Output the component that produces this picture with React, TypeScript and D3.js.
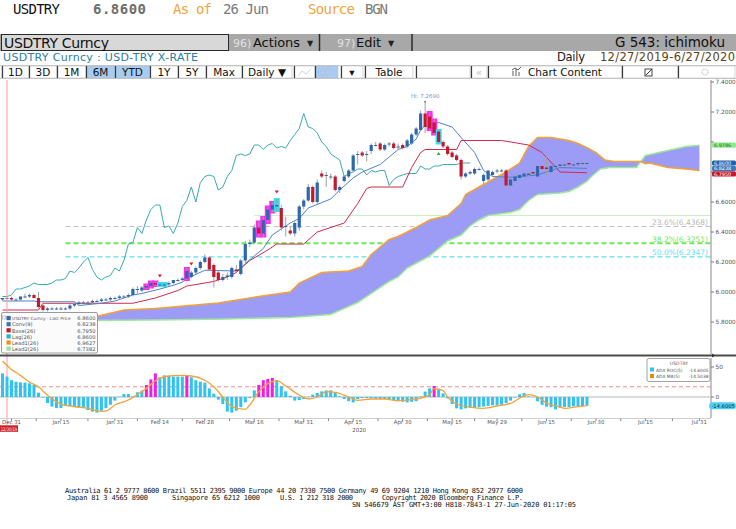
import React, { useEffect, useRef } from "react";
import * as d3 from "d3";

// trading calendar (weekdays) used as the bar axis
const firstDay = "2019-12-27";
const endDay = "2020-08-04";

// daily OHLC, one value per weekday from 2019-12-27 to 2020-06-26
const opens = [
  5.95, 5.96, 5.96, 5.95, 5.95, 5.97, 5.97, 5.98, 5.96, 5.91,
  5.88, 5.89, 5.89, 5.89, 5.89, 5.89, 5.91, 5.92, 5.93, 5.93,
  5.93, 5.94, 5.94, 5.95, 5.95, 5.96, 5.96, 5.97, 5.97, 5.98,
  6.02, 6.01, 6.03, 6.04, 6.06, 6.05, 6.05, 6.05, 6.06, 6.08,
  6.08, 6.09, 6.10, 6.13, 6.16, 6.20, 6.23, 6.18, 6.13, 6.08,
  6.10, 6.10, 6.15, 6.12, 6.21, 6.32, 6.33, 6.43, 6.39, 6.48,
  6.55, 6.57, 6.56, 6.44, 6.41, 6.39, 6.43, 6.57, 6.61, 6.70,
  6.60, 6.79, 6.78, 6.77, 6.77, 6.68, 6.74, 6.77, 6.81, 6.92,
  6.93, 6.92, 6.94, 6.98, 6.99, 6.95, 6.99, 6.99, 6.97, 6.98,
  6.97, 6.99, 7.05, 7.08, 7.19, 7.17, 7.13, 7.07, 7.00, 6.97,
  6.93, 6.91, 6.88, 6.77, 6.79, 6.79, 6.82, 6.74, 6.75, 6.78,
  6.81, 6.81, 6.81, 6.71, 6.74, 6.76, 6.77, 6.78, 6.80, 6.77,
  6.84, 6.83, 6.80, 6.84, 6.84, 6.85, 6.86, 6.85, 6.85, 6.86,
  6.86,
];
const highs = [
  5.96, 5.97, 5.97, 5.96, 5.97, 5.99, 5.99, 5.99, 6.00, 5.92,
  5.90, 5.90, 5.90, 5.90, 5.90, 5.92, 5.93, 5.94, 5.94, 5.94,
  5.95, 5.95, 5.96, 5.96, 5.97, 5.97, 5.98, 5.98, 5.99, 6.03,
  6.04, 6.04, 6.05, 6.07, 6.07, 6.06, 6.06, 6.07, 6.08, 6.09,
  6.10, 6.16, 6.14, 6.17, 6.21, 6.25, 6.24, 6.19, 6.14, 6.12,
  6.13, 6.17, 6.18, 6.22, 6.34, 6.35, 6.45, 6.47, 6.50, 6.57,
  6.60, 6.62, 6.58, 6.50, 6.44, 6.47, 6.58, 6.62, 6.72, 6.71,
  6.75, 6.81, 6.80, 6.79, 6.78, 6.71, 6.78, 6.82, 6.92, 6.94,
  6.94, 6.94, 6.99, 7.00, 7.00, 6.99, 7.00, 7.00, 6.99, 6.99,
  7.02, 7.06, 7.10, 7.21, 7.269, 7.20, 7.15, 7.08, 7.01, 6.98,
  6.94, 6.92, 6.89, 6.80, 6.81, 6.83, 6.83, 6.79, 6.81, 6.81,
  6.82, 6.82, 6.82, 6.76, 6.78, 6.79, 6.80, 6.80, 6.81, 6.85,
  6.85, 6.90, 6.85, 6.86, 6.86, 6.86, 6.87, 6.86, 6.87, 6.87,
  6.87,
];
const lows = [
  5.94, 5.95, 5.94, 5.95, 5.94, 5.96, 5.96, 5.96, 5.89, 5.87,
  5.87, 5.88, 5.88, 5.88, 5.88, 5.88, 5.90, 5.91, 5.92, 5.92,
  5.92, 5.93, 5.93, 5.94, 5.94, 5.95, 5.95, 5.96, 5.96, 5.97,
  5.99, 6.00, 6.02, 6.03, 6.04, 6.04, 6.04, 6.04, 6.05, 6.07,
  6.07, 6.08, 6.09, 6.12, 6.15, 6.19, 6.14, 6.03, 6.07, 6.07,
  6.08, 6.09, 6.13, 6.11, 6.19, 6.30, 6.32, 6.37, 6.37, 6.46,
  6.53, 6.54, 6.41, 6.37, 6.38, 6.37, 6.41, 6.55, 6.60, 6.59,
  6.58, 6.76, 6.70, 6.75, 6.67, 6.66, 6.73, 6.76, 6.80, 6.85,
  6.90, 6.87, 6.92, 6.97, 6.94, 6.94, 6.97, 6.95, 6.95, 6.95,
  6.96, 6.98, 7.04, 7.07, 7.06, 7.08, 7.05, 6.99, 6.96, 6.91,
  6.89, 6.87, 6.75, 6.76, 6.78, 6.78, 6.81, 6.72, 6.74, 6.77,
  6.79, 6.80, 6.70, 6.70, 6.73, 6.75, 6.76, 6.77, 6.78, 6.76,
  6.81, 6.78, 6.79, 6.83, 6.83, 6.84, 6.84, 6.84, 6.84, 6.85,
  6.85,
];
const closes = [
  5.96, 5.96, 5.95, 5.95, 5.97, 5.97, 5.98, 5.96, 5.90, 5.88,
  5.89, 5.89, 5.89, 5.89, 5.89, 5.91, 5.92, 5.93, 5.93, 5.93,
  5.94, 5.94, 5.95, 5.95, 5.96, 5.96, 5.97, 5.97, 5.98, 6.02,
  6.02, 6.03, 6.04, 6.06, 6.05, 6.05, 6.05, 6.06, 6.08, 6.08,
  6.09, 6.14, 6.13, 6.16, 6.20, 6.23, 6.15, 6.10, 6.08, 6.10,
  6.11, 6.16, 6.14, 6.21, 6.32, 6.33, 6.43, 6.39, 6.48, 6.55,
  6.58, 6.58, 6.43, 6.44, 6.39, 6.46, 6.57, 6.61, 6.70, 6.60,
  6.73, 6.77, 6.78, 6.77, 6.68, 6.70, 6.77, 6.81, 6.91, 6.92,
  6.91, 6.92, 6.98, 6.98, 6.95, 6.98, 6.99, 6.96, 6.97, 6.96,
  7.01, 7.05, 7.09, 7.19, 7.10, 7.09, 7.06, 7.00, 6.97, 6.92,
  6.90, 6.88, 6.77, 6.79, 6.80, 6.82, 6.82, 6.78, 6.81, 6.80,
  6.81, 6.81, 6.71, 6.75, 6.77, 6.78, 6.79, 6.79, 6.79, 6.84,
  6.82, 6.82, 6.84, 6.84, 6.85, 6.85, 6.85, 6.85, 6.86, 6.86,
  6.86,
];

// ichimoku lines
const conv: [string, number][] = [
  ["2019-12-27", 5.94], ["2020-01-07", 5.94], ["2020-01-08", 5.935], ["2020-01-20", 5.935],
  ["2020-01-21", 5.91], ["2020-01-28", 5.925], ["2020-01-31", 5.94], ["2020-02-06", 5.98],
  ["2020-02-10", 5.99], ["2020-02-14", 6.02], ["2020-02-19", 6.045], ["2020-02-21", 6.065],
  ["2020-02-24", 6.09], ["2020-02-28", 6.145], ["2020-03-10", 6.14],
  ["2020-03-11", 6.16], ["2020-03-12", 6.19], ["2020-03-16", 6.24], ["2020-03-18", 6.29],
  ["2020-03-20", 6.38], ["2020-03-24", 6.42], ["2020-03-26", 6.46], ["2020-03-30", 6.49],
  ["2020-04-01", 6.56], ["2020-04-08", 6.62], ["2020-04-10", 6.68], ["2020-04-15", 6.76],
  ["2020-04-17", 6.8], ["2020-04-23", 6.85], ["2020-04-29", 6.95], ["2020-05-01", 6.97],
  ["2020-05-05", 7.02], ["2020-05-06", 7.08], ["2020-05-07", 7.11], ["2020-05-12", 7.13],
  ["2020-05-15", 7.1], ["2020-05-19", 7.03], ["2020-05-22", 6.93], ["2020-05-26", 6.81],
  ["2020-05-28", 6.77], ["2020-06-03", 6.765], ["2020-06-11", 6.78], ["2020-06-18", 6.83],
  ["2020-06-26", 6.8238],
];
const base: [string, number][] = [
  ["2019-12-27", 5.88], ["2020-01-08", 5.88], ["2020-01-09", 5.925], ["2020-02-06", 5.925],
  ["2020-02-13", 5.96], ["2020-02-20", 6.01], ["2020-02-24", 6.04], ["2020-03-03", 6.07],
  ["2020-03-06", 6.1], ["2020-03-10", 6.13], ["2020-03-13", 6.21], ["2020-03-19", 6.28],
  ["2020-03-23", 6.32], ["2020-03-31", 6.32], ["2020-04-03", 6.4], ["2020-04-13", 6.46],
  ["2020-04-16", 6.59], ["2020-04-20", 6.69], ["2020-04-21", 6.7], ["2020-04-30", 6.7],
  ["2020-05-04", 6.83], ["2020-05-06", 6.93], ["2020-05-07", 6.95], ["2020-05-18", 6.95],
  ["2020-05-19", 7.01], ["2020-06-01", 7.01], ["2020-06-09", 6.98], ["2020-06-12", 6.93],
  ["2020-06-18", 6.8], ["2020-06-26", 6.795],
];
const lead1: [string, number][] = [
  ["2019-12-27", 5.8], ["2020-01-23", 5.824], ["2020-02-04", 5.88], ["2020-02-13", 5.89],
  ["2020-03-04", 5.927], ["2020-03-17", 5.97], ["2020-03-26", 6.0], ["2020-03-30", 6.06],
  ["2020-04-06", 6.13], ["2020-04-14", 6.14],
  ["2020-04-17", 6.17], ["2020-04-21", 6.25], ["2020-04-23", 6.3], ["2020-04-27", 6.35],
  ["2020-04-29", 6.37], ["2020-05-05", 6.43], ["2020-05-08", 6.48], ["2020-05-14", 6.51],
  ["2020-05-19", 6.59], ["2020-05-20", 6.65], ["2020-05-25", 6.7], ["2020-05-28", 6.75],
  ["2020-06-02", 6.8], ["2020-06-05", 6.86], ["2020-06-09", 6.97], ["2020-06-11", 7.03],
  ["2020-06-16", 7.03], ["2020-06-18", 7.02], ["2020-06-22", 7.01], ["2020-06-24", 6.99],
  ["2020-06-26", 6.9627], ["2020-06-30", 6.93], ["2020-07-02", 6.88], ["2020-07-06", 6.87],
  ["2020-07-14", 6.87], ["2020-07-15", 6.855], ["2020-07-16", 6.86], ["2020-07-22", 6.83],
  ["2020-07-28", 6.82], ["2020-07-31", 6.81],
];
const lead2: [string, number][] = [
  ["2019-12-27", 5.79], ["2020-01-23", 5.81], ["2020-02-13", 5.813], ["2020-03-06", 5.82],
  ["2020-03-26", 5.83], ["2020-04-08", 5.85], ["2020-04-16", 5.93], ["2020-04-27", 6.07],
  ["2020-04-29", 6.1], ["2020-05-01", 6.16], ["2020-05-08", 6.24], ["2020-05-14", 6.34],
  ["2020-05-19", 6.38], ["2020-05-21", 6.44], ["2020-05-25", 6.48],
  ["2020-05-27", 6.51], ["2020-06-03", 6.53], ["2020-06-05", 6.55], ["2020-06-09", 6.61],
  ["2020-06-11", 6.65], ["2020-06-18", 6.66], ["2020-06-22", 6.67], ["2020-06-24", 6.7],
  ["2020-06-26", 6.7382], ["2020-06-29", 6.77], ["2020-07-01", 6.82], ["2020-07-03", 6.83],
  ["2020-07-13", 6.83], ["2020-07-15", 6.91], ["2020-07-20", 6.93], ["2020-07-23", 6.95],
  ["2020-07-28", 6.97], ["2020-07-31", 6.9786],
];
const lagShift = 26;

// pattern highlights and signals
const pinkBoxes = ["2020-02-11", "2020-02-12", "2020-02-13", "2020-02-24", "2020-03-17", "2020-03-18", "2020-03-19", "2020-03-20", "2020-05-08", "2020-05-11"];
const cyanBoxes = ["2020-02-14", "2020-02-17", "2020-03-23", "2020-05-12"];
const sellMarks = ["2020-02-14", "2020-02-25", "2020-03-23"];
const buyMarks = ["2020-05-12"];

// fibonacci levels
const fibNames = ["23.6%", "38.2%", "50.0%"];
const fibValues = [6.4368, 6.3251, 6.2347];
const fibStart = "2020-01-16";
const guideLevel = 6.51;
const guideStart = "2020-03-16";

// lower study: ADX ROC(5) per bar and its MA(5)
const roc = [
  39.4, 34, 28, 25.5, 24.4, 24, 22.8, 20, 7.2, -1,
  -10, -16, -18.5, -18.5, -15, -15, -17, -17, -18.5, -21.7,
  -24.4, -26, -23, -18.5, -13, -6, 0.5, 5, 5, 1,
  7.8, 10.6, 20, 29.4, 39.4, 32.8, 36, 35, 34, 34,
  34, 36.7, 32.8, 28, 25.5, 23.9, 14.4, 5.6, -4.4, -11.7,
  -24.4, -26, -22.8, -17, -9, -1.5, 11, 20, 28, 30,
  31.7, 28, 18, 9.4, 2, -6, -5, -3.3, 0.5, 4,
  6.7, 9.4, 11, 11, 6.7, 1, -3.3, -7, -9, -3.3,
  -1.7, -1.7, -1.7, -2.5, -3, -3, -3.3, -5, -7, -8,
  -9, -8, -7, 1, 9, 14.4, 18.3, 12.8, 6.1, -2.2,
  -11.7, -18.9, -20.6, -19, -18, -17.5, -16.7, -16, -15, -13.9,
  -13.9, -13, -10, -6, -1, 4.4, 6.7, 1.1, -0.5, -7.2,
  -13, -16, -17, -20.6, -18, -16.7, -16.7, -15.5, -15, -15,
  -14.6005,
];
const rocPink = ["2020-02-11", "2020-02-12", "2020-02-13", "2020-02-24", "2020-03-17", "2020-03-18", "2020-03-19", "2020-03-20", "2020-05-11"];
const rocMa: [string, number][] = [
  ["2019-12-27", 60], ["2019-12-31", 46], ["2020-01-02", 36], ["2020-01-06", 25], ["2020-01-08", 17],
  ["2020-01-10", 3], ["2020-01-13", -3], ["2020-01-15", -11.7], ["2020-01-20", -16], ["2020-01-23", -19],
  ["2020-01-28", -24], ["2020-01-29", -23.3], ["2020-01-31", -13.3], ["2020-02-05", -5], ["2020-02-07", 4],
  ["2020-02-11", 14.4], ["2020-02-13", 27], ["2020-02-18", 35], ["2020-02-21", 36], ["2020-02-25", 35],
  ["2020-02-28", 28], ["2020-03-03", 17], ["2020-03-05", 0], ["2020-03-09", -16], ["2020-03-12", -20.6],
  ["2020-03-13", -13.3], ["2020-03-17", 9], ["2020-03-20", 25.6], ["2020-03-23", 27.2], ["2020-03-25", 18.3],
  ["2020-03-30", 3.3], ["2020-04-01", -3.3], ["2020-04-03", 0], ["2020-04-07", 8.9], ["2020-04-09", 7.8],
  ["2020-04-14", 0], ["2020-04-16", -5.6], ["2020-04-21", -3.3], ["2020-04-24", -3.3], ["2020-04-29", -6.1],
  ["2020-05-05", -3.3], ["2020-05-08", 4], ["2020-05-11", 13.9], ["2020-05-13", 10.6], ["2020-05-14", 0],
  ["2020-05-18", -11.7], ["2020-05-21", -16.7], ["2020-05-26", -18.9], ["2020-05-29", -15], ["2020-06-03", -10.6],
  ["2020-06-08", 1.7], ["2020-06-09", 3.9], ["2020-06-11", 0], ["2020-06-15", -10], ["2020-06-18", -16.7],
  ["2020-06-19", -18.9], ["2020-06-24", -16.1], ["2020-06-26", -14.5038],
];
const rocDash = 17;

// axis
const priceTicks = [5.8, 6.0, 6.2, 6.4, 6.6, 6.8, 7.0, 7.2, 7.4];
const dateTicks = ["2019-12-31", "2020-01-15", "2020-01-31", "2020-02-14", "2020-02-28", "2020-03-16", "2020-03-31", "2020-04-15", "2020-04-30", "2020-05-15", "2020-05-29", "2020-06-15", "2020-06-30", "2020-07-15", "2020-07-31"];

const legendNames = ["USDTRY Curncy - Last Price", "Conv(9)", "Base(26)", "Lag(26)", "Lead1(26)", "Lead2(26)"];
const legendValues = ["6.8600", "6.8238", "6.7950", "6.8600", "6.9627", "6.7382"];

const parse = d3.timeParse("%Y-%m-%d");
const key = d3.timeFormat("%Y-%m-%d");
const days = d3.timeDay
  .range(parse(firstDay) as Date, parse(endDay) as Date)
  .filter((d) => d.getDay() !== 0 && d.getDay() !== 6);
const dayIndex = new Map(days.map((d, i) => [key(d), i]));
const idx = (s: string) => dayIndex.get(s) as number;

const UP = "#2d67ad";
const DOWN = "#c4182f";
const SANS = "DejaVu Sans, Verdana, sans-serif";
const MONO = "DejaVu Sans Mono, monospace";

function drawChart(root: d3.Selection<SVGGElement, unknown, null, undefined>) {
  const x = d3.scaleLinear().domain([0, closes.length - 1]).range([2.5, 587]);
  const y = d3.scaleLinear().domain([5.8, 7.4]).range([322, 82]);
  const yl = d3.scaleLinear().domain([0, 50]).range([397, 367]);
  const xd = (s: string) => x(idx(s));

  const defs = root.append("defs");
  defs.append("clipPath").attr("id", "clipMain").append("rect")
    .attr("x", 0).attr("y", 80).attr("width", 711).attr("height", 274);
  defs.append("clipPath").attr("id", "clipLow").append("rect")
    .attr("x", 0).attr("y", 357).attr("width", 711).attr("height", 61);

  const main = root.append("g").attr("clip-path", "url(#clipMain)");

  // guide + fibonacci lines
  main.append("line")
    .attr("x1", xd(guideStart)).attr("x2", 711)
    .attr("y1", y(guideLevel)).attr("y2", y(guideLevel))
    .attr("stroke", "#c6f2c0").attr("stroke-width", 1);
  const fibColors = ["#c4c4c4", "#6ee85a", "#5ee0f0"];
  const fibWidths = [1.2, 2, 1.2];
  fibValues.forEach((v, i) => {
    main.append("line")
      .attr("x1", xd(fibStart)).attr("x2", 711)
      .attr("y1", y(v)).attr("y2", y(v))
      .attr("stroke", fibColors[i]).attr("stroke-width", fibWidths[i])
      .attr("stroke-dasharray", "5,3");
    main.append("text")
      .attr("x", 708).attr("y", y(v) - 1.5)
      .attr("text-anchor", "end")
      .attr("font-family", SANS).attr("font-size", 7.5)
      .attr("fill", i === 0 ? "#b8b8b8" : fibColors[i])
      .text(`${fibNames[i]}(${v.toFixed(4)})`);
  });

  // cloud
  const pts1 = lead1.map(([d, v]) => [xd(d), y(v)] as [number, number]);
  const pts2 = lead2.map(([d, v]) => [xd(d), y(v)] as [number, number]);
  main.append("path")
    .attr("d", (d3.line()([...pts1, ...pts2.slice().reverse()]) as string) + "Z")
    .attr("fill", "#9c9cf6");
  const line = d3.line<[string, number]>().x((d) => xd(d[0])).y((d) => y(d[1]));
  main.append("path").attr("d", line(lead2)).attr("fill", "none").attr("stroke", "#9de89a").attr("stroke-width", 1.5);
  main.append("path").attr("d", line(lead1)).attr("fill", "none").attr("stroke", "#f5a033").attr("stroke-width", 1.5);

  // lagging span
  const lagLine = d3.line<number>().x((_, i) => x(i)).y((v) => y(v));
  main.append("path").attr("d", lagLine(closes.slice(lagShift)))
    .attr("fill", "none").attr("stroke", "#3aa9b4").attr("stroke-width", 1);
  main.append("path").attr("d", line(base)).attr("fill", "none").attr("stroke", "#d22a4c").attr("stroke-width", 1);
  main.append("path").attr("d", line(conv)).attr("fill", "none").attr("stroke", "#4f82c8").attr("stroke-width", 1);

  // highlight boxes
  const box = (list: string[], color: string) => list.forEach((d) => {
    const i = idx(d);
    main.append("rect")
      .attr("x", x(i) - 3).attr("width", 6)
      .attr("y", y(highs[i]) - 1).attr("height", y(lows[i]) - y(highs[i]) + 2)
      .attr("fill", color);
  });
  box(pinkBoxes, "#ff2cf0");
  box(cyanBoxes, "#2fe0fa");

  // candles
  closes.forEach((c, i) => {
    const o = opens[i];
    const col = c >= o ? UP : DOWN;
    main.append("line")
      .attr("x1", x(i)).attr("x2", x(i))
      .attr("y1", y(highs[i])).attr("y2", y(lows[i]))
      .attr("stroke", "#a0a0a0").attr("stroke-width", 1);
    const top = y(Math.max(o, c));
    const h = Math.max(1, Math.abs(y(o) - y(c)));
    main.append("rect")
      .attr("x", x(i) - 1.6).attr("width", 3.2)
      .attr("y", top).attr("height", h)
      .attr("fill", col);
  });

  // signals
  sellMarks.forEach((d) => {
    const i = idx(d);
    const cy = y(highs[i]) - 7;
    main.append("path")
      .attr("d", `M${x(i) - 2},${cy - 1.5}L${x(i) + 2},${cy - 1.5}L${x(i)},${cy + 1.5}Z`)
      .attr("fill", "#e8102a");
  });
  buyMarks.forEach((d) => {
    const i = idx(d);
    const cy = y(lows[i]) + 10;
    main.append("path")
      .attr("d", `M${x(i) - 2},${cy + 1.5}L${x(i) + 2},${cy + 1.5}L${x(i)},${cy - 1.5}Z`)
      .attr("fill", "#3cb043");
  });

  // high label
  const hiIdx = d3.maxIndex(highs);
  main.append("circle").attr("cx", x(hiIdx)).attr("cy", y(highs[hiIdx])).attr("r", 1).attr("fill", "#5f86c0");
  main.append("text")
    .attr("x", x(hiIdx)).attr("y", y(highs[hiIdx]) - 3.5)
    .attr("text-anchor", "middle")
    .attr("font-family", SANS).attr("font-size", 5.5).attr("fill", "#8294b8")
    .text(`Hi: ${highs[hiIdx].toFixed(4)}`);

  // start marker
  root.append("line").attr("x1", 7).attr("x2", 7).attr("y1", 80).attr("y2", 425)
    .attr("stroke", "#ff9a9a").attr("stroke-width", 1);

  // legend
  const lg = root.append("g");
  lg.append("rect").attr("x", 1.5).attr("y", 312.5).attr("width", 96).attr("height", 40.5)
    .attr("fill", "#fbfbfb").attr("stroke", "#9a9a9a").attr("rx", 1.5);
  const legendColors = [UP, "#3f74bf", DOWN, "#27b5bd", "#ef8d1a", "#93e693"];
  legendNames.forEach((n, i) => {
    const yy = 320.3 + i * 6.1;
    lg.append("rect").attr("x", 6.5).attr("y", yy - 4.3).attr("width", 4.2).attr("height", 4.2)
      .attr("fill", legendColors[i]);
    lg.append("text").attr("x", 12).attr("y", yy)
      .attr("font-family", SANS).attr("font-size", i === 0 ? 4.3 : 5.2).attr("fill", "#555")
      .text(n);
    lg.append("text").attr("x", 95.5).attr("y", yy).attr("text-anchor", "end")
      .attr("font-family", SANS).attr("font-size", 5.2).attr("fill", "#555")
      .text(legendValues[i]);
  });
  lg.append("rect").attr("x", 2.5).attr("y", 316).attr("width", 3).attr("height", 3)
    .attr("fill", "none").attr("stroke", "#999").attr("stroke-width", 0.5);

  // right price axis with value tags
  const ax = root.append("g");
  ax.append("line").attr("x1", 711).attr("x2", 711).attr("y1", 80).attr("y2", 354)
    .attr("stroke", "#8a8a8a").attr("stroke-width", 1);
  const tags: [number, string, string][] = [
    [lead2[lead2.length - 1][1], "#90ea8e", "#1d5c1d"],
    [closes[closes.length - 1], "#2261aa", "#ffffff"],
    [conv[conv.length - 1][1], "#3c76bd", "#ffffff"],
    [base[base.length - 1][1], DOWN, "#ffffff"],
  ];
  const tagY: number[] = [];
  tags.forEach(([v], i) => {
    const raw = y(v);
    tagY.push(i > 0 ? Math.max(raw, tagY[i - 1] + 5.4) : raw);
  });
  priceTicks.forEach((t) => {
    ax.append("line").attr("x1", 711).attr("x2", 714).attr("y1", y(t)).attr("y2", y(t)).attr("stroke", "#777");
    if (tagY.some((ty) => Math.abs(ty - y(t)) < 6)) return;
    ax.append("text").attr("x", 715.5).attr("y", y(t) + 2)
      .attr("font-family", SANS).attr("font-size", 5.8).attr("fill", "#555")
      .text(t.toFixed(4));
  });
  tags.forEach(([v, bg, fg], i) => {
    ax.append("rect").attr("x", 712).attr("y", tagY[i] - 2.6).attr("width", 24).attr("height", 5.2)
      .attr("rx", 1.5).attr("fill", bg);
    ax.append("text").attr("x", 714).attr("y", tagY[i] + 1.8)
      .attr("font-family", SANS).attr("font-size", 4.9).attr("fill", fg)
      .text(v.toFixed(4));
  });

  // panel divider
  root.append("line").attr("x1", 0).attr("x2", 736).attr("y1", 355.5).attr("y2", 355.5)
    .attr("stroke", "#4a4a4a").attr("stroke-width", 2);
  root.append("path").attr("d", "M712,353.5L715,355.5L712,357.5Z").attr("fill", "#333");

  // lower study
  const low = root.append("g").attr("clip-path", "url(#clipLow)");
  low.append("line").attr("x1", 0).attr("x2", 711).attr("y1", yl(rocDash)).attr("y2", yl(rocDash))
    .attr("stroke", "#f08c8c").attr("stroke-width", 1).attr("stroke-dasharray", "4,3");
  low.append("line").attr("x1", 0).attr("x2", 711).attr("y1", yl(0)).attr("y2", yl(0))
    .attr("stroke", "#cfcfcf").attr("stroke-width", 1.5);
  const pinkSet = new Set(rocPink.map(idx));
  roc.forEach((v, i) => {
    low.append("rect")
      .attr("x", x(i) - 1.5).attr("width", 3)
      .attr("y", Math.min(yl(v), yl(0))).attr("height", Math.abs(yl(v) - yl(0)))
      .attr("fill", pinkSet.has(i) ? "#f21ce6" : "#2ec3f2");
  });
  const maLine = d3.line<[string, number]>().x((d) => xd(d[0])).y((d) => yl(d[1])).curve(d3.curveMonotoneX);
  low.append("path").attr("d", maLine(rocMa)).attr("fill", "none").attr("stroke", "#f3a23a").attr("stroke-width", 1.3);

  // lower axis
  ax.append("line").attr("x1", 711).attr("x2", 711).attr("y1", 358).attr("y2", 418).attr("stroke", "#8a8a8a");
  [50, 0].forEach((t) => {
    ax.append("line").attr("x1", 711).attr("x2", 714).attr("y1", yl(t)).attr("y2", yl(t)).attr("stroke", "#777");
    ax.append("text").attr("x", 715.5).attr("y", yl(t) + 2)
      .attr("font-family", SANS).attr("font-size", 5.8).attr("fill", "#555").text(String(t));
  });
  const lastRoc = roc[roc.length - 1];
  ax.append("rect").attr("x", 709).attr("y", yl(lastRoc) - 3.5).attr("width", 27).attr("height", 7)
    .attr("rx", 3.5).attr("fill", "#4fd0f6");
  ax.append("text").attr("x", 711.5).attr("y", yl(lastRoc) + 2)
    .attr("font-family", SANS).attr("font-size", 5.2).attr("fill", "#0a2a3a").text(lastRoc.toFixed(4));

  // lower legend
  const ll = root.append("g");
  ll.append("rect").attr("x", 647).attr("y", 358.5).attr("width", 63).attr("height", 23)
    .attr("rx", 2).attr("fill", "#ffffff").attr("stroke", "#8c8c8c").attr("stroke-width", 0.8);
  ll.append("text").attr("x", 679).attr("y", 365).attr("text-anchor", "middle")
    .attr("font-family", SANS).attr("font-size", 4.6).attr("fill", "#666").text("USDTRY");
  const lowNames = ["ADX ROC(5)", "ADX MA(5)"];
  const lowVals = [lastRoc, rocMa[rocMa.length - 1][1]];
  const lowCols = ["#2ec3f2", "#e58a16"];
  lowNames.forEach((n, i) => {
    const yy = 371.5 + i * 6.5;
    ll.append("rect").attr("x", 650).attr("y", yy - 4).attr("width", 4).attr("height", 4).attr("fill", lowCols[i]);
    ll.append("text").attr("x", 656).attr("y", yy).attr("font-family", SANS).attr("font-size", 4.4).attr("fill", "#555").text(n);
    ll.append("text").attr("x", 708.5).attr("y", yy).attr("text-anchor", "end")
      .attr("font-family", SANS).attr("font-size", 4.4).attr("fill", "#555").text(lowVals[i].toFixed(4));
  });

  // date axis
  ax.append("line").attr("x1", 0).attr("x2", 711).attr("y1", 418.5).attr("y2", 418.5).attr("stroke", "#d0d0d0");
  const fmt = d3.timeFormat("%b %d");
  const tickX = dateTicks.map(xd);
  tickX.forEach((tx, i) => {
    ax.append("line").attr("x1", tx).attr("x2", tx).attr("y1", 418.5).attr("y2", 421).attr("stroke", "#888");
    if (i > 0) {
      const mx = (tx + tickX[i - 1]) / 2;
      ax.append("line").attr("x1", mx).attr("x2", mx).attr("y1", 418.5).attr("y2", 421).attr("stroke", "#888");
    }
    ax.append("text").attr("x", tx).attr("y", 424.3).attr("text-anchor", "middle")
      .attr("font-family", SANS).attr("font-size", 5.4).attr("fill", "#555")
      .text(fmt(parse(dateTicks[i]) as Date));
  });
  ax.append("text").attr("x", xd("2020-04-15") + 6).attr("y", 432).attr("text-anchor", "middle")
    .attr("font-family", SANS).attr("font-size", 5.4).attr("fill", "#555").text("2020");
  ax.append("rect").attr("x", 0).attr("y", 425.3).attr("width", 18).attr("height", 6.5).attr("fill", "#cc1b2b");
  ax.append("text").attr("x", 0.8).attr("y", 430.6)
    .attr("font-family", SANS).attr("font-size", 4.8).attr("fill", "#ffffff")
    .attr("textLength", 16.4).attr("lengthAdjust", "spacingAndGlyphs").text("12/30/19");
}

const tools = [
  { t: "1D", a: 2, b: 29 }, { t: "3D", a: 29, b: 57 }, { t: "1M", a: 57, b: 86 },
  { t: "6M", a: 86, b: 115, on: true }, { t: "YTD", a: 115, b: 150, on: true },
  { t: "1Y", a: 150, b: 178 }, { t: "5Y", a: 178, b: 206 }, { t: "Max", a: 206, b: 242 },
  { t: "Daily \u25BC", a: 242, b: 292 }, { t: "", a: 294, b: 315 }, { t: "", a: 315, b: 338, on: true },
  { t: "\u25BE", a: 341, b: 363 }, { t: "Table", a: 365, b: 413 }, { t: "", a: 416, b: 470 },
  { t: "\u00AB", a: 471, b: 487, dim: true }, { t: "Chart Content", a: 488, b: 622, pad: 20 },
  { t: "", a: 622, b: 678 }, { t: "", a: 678, b: 735 },
];

function Header() {
  return (
    <g>
      <text x={13} y={14} fontFamily={MONO} fontSize={14} fill="#111" textLength={47}>USDTRY</text>
      <text x={93} y={14} fontFamily={MONO} fontSize={14} fontWeight="bold" fill="#6e6e6e" textLength={53}>6.8600</text>
      <text x={173} y={14} fontFamily={MONO} fontSize={14} fill="#f2a33a" textLength={39}>As of</text>
      <text x={223} y={14} fontFamily={MONO} fontSize={14} fill="#7a7a7a" textLength={46}>26 Jun</text>
      <text x={308} y={14} fontFamily={MONO} fontSize={14} fill="#f2a33a" textLength={47}>Source</text>
      <text x={365} y={14} fontFamily={MONO} fontSize={14} fill="#7a7a7a" textLength={23}>BGN</text>

      <rect x={0} y={34} width={736} height={17} fill="#a8a8a8" />
      <rect x={1.5} y={34.5} width={227} height={16} fill="#d8d8d8" stroke="#2a2a2a" />
      <text x={4} y={47.5} fontFamily={SANS} fontSize={14} fill="#111" textLength={105}>USDTRY Curncy</text>
      <text x={233} y={47} fontFamily={SANS} fontSize={11} fill="#e2e2e2">96)</text>
      <text x={253} y={47} fontFamily={SANS} fontSize={13} fill="#111" textLength={47}>Actions</text>
      <text x={307} y={46} fontFamily={SANS} fontSize={8} fill="#222">{"\u25BC"}</text>
      <line x1={319.5} x2={319.5} y1={34} y2={51} stroke="#2a2a2a" strokeWidth={1.5} />
      <text x={337} y={47} fontFamily={SANS} fontSize={11} fill="#e2e2e2">97)</text>
      <text x={356} y={47} fontFamily={SANS} fontSize={13} fill="#111">Edit</text>
      <text x={388} y={46} fontFamily={SANS} fontSize={8} fill="#222">{"\u25BC"}</text>
      <line x1={412} x2={412} y1={34} y2={51} stroke="#2a2a2a" strokeWidth={1.5} />
      <text x={725} y={47} textAnchor="end" fontFamily={SANS} fontSize={13.5} fill="#111" textLength={110}>G 543: ichimoku</text>

      <text x={3} y={61} fontFamily={SANS} fontSize={11} fill="#2c7e9b" textLength={195}>USDTRY Curncy : USD-TRY X-RATE</text>
      <text x={557} y={61} fontFamily={SANS} fontSize={11.5} fill="#222" textLength={28}>Daily</text>
      <text x={600} y={61} fontFamily={SANS} fontSize={11.5} fill="#5a4420" textLength={135}>12/27/2019-6/27/2020</text>

      <rect x={0} y={65} width={736} height={14} fill="#ffffff" />
      <line x1={0} x2={736} y1={65.5} y2={65.5} stroke="#c8c8c8" />
      <line x1={0} x2={736} y1={78.5} y2={78.5} stroke="#c8c8c8" />
      {tools.map((b, i) => (
        <g key={i}>
          <rect x={b.a} y={66} width={b.b - b.a} height={12} fill={b.on ? "#a7cbf3" : "#ffffff"} stroke="#bdbdbd" strokeWidth={0.6} />
          <line x1={b.a + 0.5} x2={b.a + 0.5} y1={66} y2={78} stroke="#3a3a3a" strokeWidth={1.2} />
          {b.t && (
            <text x={(b.a + b.b) / 2 + (b.pad || 0) / 2} y={76} textAnchor="middle" fontFamily={SANS} fontSize={10.5}
              fill={b.dim ? "#c0c0c0" : "#111"}>{b.t}</text>
          )}
        </g>
      ))}
      <path d="M298,76 L302,71 L306,74 L311,69" fill="none" stroke="#c8c8c8" strokeWidth={0.8} />
      <g fill="#c8d8ea" stroke="#9ab0c8" strokeWidth={0.5}>
        <rect x={322} y={70} width={2} height={5} />
        <rect x={327} y={68.5} width={2} height={6} />
      </g>
      <g fill="none" stroke="#333" strokeWidth={0.8}>
        <path d="M513,76 L513,71 M516,76 L516,69 M519,76 L519,72 M512,70 L515,68 L518,70 L521,67" />
      </g>
      <rect x={645} y={69} width={7} height={7} fill="none" stroke="#333" strokeWidth={0.9} />
      <path d="M646,75 L652,69" stroke="#333" strokeWidth={1} />
      <circle cx={705} cy={72} r={3} fill="none" stroke="#c4c4c4" strokeWidth={1.2} strokeDasharray="1.2,0.8" />
    </g>
  );
}

function Footer() {
  const f = { fontFamily: MONO, fontSize: 7, fill: "#111" };
  return (
    <g>
      <text x={65} y={493} {...f} textLength={458}>Australia 61 2 9777 8600 Brazil 5511 2395 9000 Europe 44 20 7330 7500 Germany 49 69 9204 1210 Hong Kong 852 2977 6000</text>
      <text x={67} y={500} {...f} textLength={81}>Japan 81 3 4565 8900</text>
      <text x={172} y={500} {...f} textLength={88}>Singapore 65 6212 1000</text>
      <text x={280} y={500} {...f} textLength={73}>U.S. 1 212 318 2000</text>
      <text x={382} y={500} {...f} textLength={141}>Copyright 2020 Bloomberg Finance L.P.</text>
      <text x={352} y={507} {...f} textLength={224}>SN 546679 AST  GMT+3:00 H818-7843-1 27-Jun-2020 01:17:05</text>
    </g>
  );
}

export default function App() {
  const ref = useRef<SVGGElement>(null);

  useEffect(() => {
    const g = d3.select(ref.current as SVGGElement);
    g.selectAll("*").remove();
    drawChart(g);
  }, []);

  return (
    <div style={{ position: "absolute", left: 0, top: 0 }}>
      <style>{"body{margin:0;background:#fff}"}</style>
      <svg width={736} height={529} viewBox="0 0 736 529" style={{ display: "block" }}>
        <rect width={736} height={529} fill="#ffffff" />
        <Header />
        <g ref={ref} />
        <Footer />
      </svg>
    </div>
  );
}
